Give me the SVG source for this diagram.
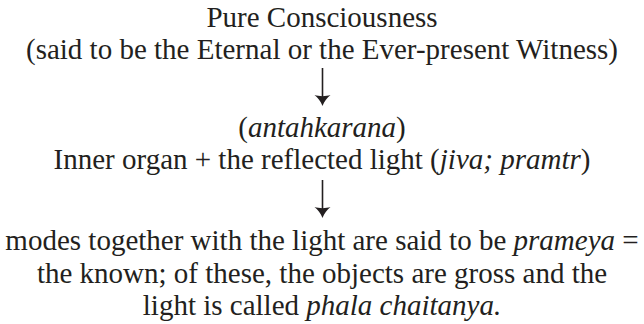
<svg xmlns="http://www.w3.org/2000/svg" width="644" height="324" viewBox="0 0 644 324">
<style>
.t{font-family:'Liberation Serif','DejaVu Serif',serif;font-size:29px;fill:#231f20;text-anchor:middle}
.i{font-style:italic}
.ln{stroke:#231f20;stroke-width:1.6;fill:none}
.hd{fill:#231f20;stroke:none}
</style>
<rect width="644" height="324" fill="#fff"/>
<g class="t" font-family="Liberation Serif, DejaVu Serif, serif" font-size="29" text-anchor="middle">
<g id="node-pure">
<text x="322" y="27">Pure Consciousness</text>
<text x="322" y="59">(said to be the Eternal or the Ever-present Witness)</text>
</g>
<g id="node-inner">
<text x="322" y="137">(<tspan class="i">antahkarana</tspan>)</text>
<text x="322" y="169">Inner organ + the reflected light (<tspan class="i">jiva; pramtr</tspan>)</text>
</g>
<g id="node-modes">
<text x="322" y="250">modes together with the light are said to be <tspan class="i">prameya</tspan> =</text>
<text x="322" y="283">the known; of these, the objects are gross and the</text>
<text x="322" y="315">light is called <tspan class="i">phala chaitanya.</tspan></text>
</g>
</g>
<g id="connectors">
<line class="ln" x1="322.5" y1="68" x2="322.5" y2="102"/>
<path class="hd" d="M322.5,106 C320.5,101 318,98 314.5,95 C319,96.5 326,96.5 330.5,95 C327,98 324.5,101 322.5,106Z"/>
<line class="ln" x1="322.5" y1="180" x2="322.5" y2="214"/>
<path class="hd" d="M322.5,218 C320.5,213 318,210 314.5,207 C319,208.5 326,208.5 330.5,207 C327,210 324.5,213 322.5,218Z"/>
</g>
</svg>
